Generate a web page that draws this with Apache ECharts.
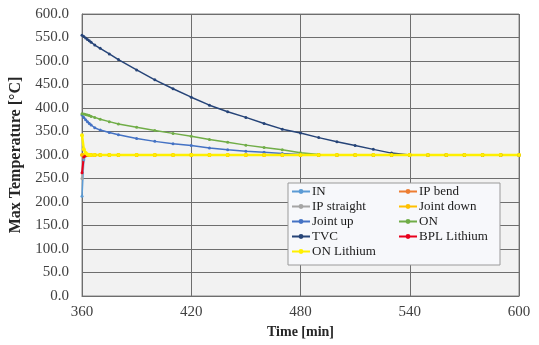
<!DOCTYPE html>
<html>
<head>
<meta charset="utf-8">
<script src="https://cdn.jsdelivr.net/npm/echarts@6/dist/echarts.min.js"></script>
<style>
html,body{margin:0;padding:0;background:#fff;}
#chart{width:539px;height:345px;}
</style>
</head>
<body>
<div id="chart"></div>
<script>
// time points (min)
const times = [360,361,362,363,364,365,367,370,375,380,390,400,410,420,430,440,450,460,470,480,490,500,510,520,530,540,550,560,570,580,590,600];

const seriesNames = ['IN','IP bend','IP straight','Joint down','Joint up','ON','TVC','BPL Lithium','ON Lithium'];

const inVals         = [212,290,298,300,300,300,300,300,300,300,300,300,300,300,300,300,300,300,300,300,300,300,300,300,300,300,300,300,300,300,300,300];
const ipBendVals     = [300,300,300,300,300,300,300,300,300,300,300,300,300,300,300,300,300,300,300,300,300,300,300,300,300,300,300,300,300,300,300,300];
const ipStraightVals = [250,294,299,300,300,300,300,300,300,300,300,300,300,300,300,300,300,300,300,300,300,300,300,300,300,300,300,300,300,300,300,300];
const jointDownVals  = [300,300,300,300,300,300,300,300,300,300,300,300,300,300,300,300,300,300,300,300,300,300,300,300,300,300,300,300,300,300,300,300];
const jointUpVals    = [385,380,375,371,367,364,358,353,348,343,335,329,324,320,315,311,308,306,303,301,300,300,300,300,300,300,300,300,300,300,300,300];
const onVals         = [388,387,386,385,384,382,380,376,371,366,359,352,346,340,333,327,321,316,311,305,301,300,300,300,300,300,300,300,300,300,300,300];
const tvcVals        = [555,552,549,546,543,540,534,527,515,503,481,460,441,423,406,392,380,367,355,347,337,328,320,312,304,300,300,300,300,300,300,300];
const bplLiVals      = [262,296,299,300,300,300,300,300,300,300,300,300,300,300,300,300,300,300,300,300,300,300,300,300,300,300,300,300,300,300,300,300];
const onLiVals       = [342,312,304,301,300,300,300,300,300,300,300,300,300,300,300,300,300,300,300,300,300,300,300,300,300,300,300,300,300,300,300,300];

const xTicks = [360,420,480,540,600];

const allVals = [inVals, ipBendVals, ipStraightVals, jointDownVals, jointUpVals, onVals, tvcVals, bplLiVals, onLiVals];
const colors = ['#5B9BD5','#ED7D31','#A5A5A5','#FFC000','#4472C4','#70AD47','#264478','#E8001C','#FFF000'];
const widths = [1.5,1.5,1.5,1.5,1.5,1.5,1.5,2,2.5];
const symSizes = [3,3,3,4,3,3,3,3,4];

const FONT = '"Liberation Serif", "Times New Roman", serif';

const series = seriesNames.map((name, i) => ({
  name: name,
  type: 'line',
  data: times.map((t, j) => [t, allVals[i][j]]),
  symbol: 'circle',
  symbolSize: symSizes[i],
  showSymbol: true,
  itemStyle: {color: colors[i]},
  lineStyle: {color: colors[i], width: widths[i]},
  emphasis: {disabled: true},
  animation: false
}));

const chart = echarts.init(document.getElementById('chart'), null, {renderer: 'canvas'});
chart.setOption({
  animation: false,
  backgroundColor: '#ffffff',
  grid: {left: 82, right: 20, top: 14, bottom: 49, show: true, backgroundColor: '#f2f2f2', borderColor: '#8a8a8a', borderWidth: 1},
  xAxis: {
    type: 'value', min: 360, max: 600, interval: 60,
    name: 'Time [min]', nameLocation: 'middle', nameGap: 27,
    nameTextStyle: {fontFamily: FONT, fontWeight: 'bold', fontSize: 14, color: '#262626'},
    axisLine: {show: true, lineStyle: {color: '#6e6e6e'}},
    axisTick: {show: false},
    axisLabel: {fontFamily: FONT, fontSize: 15, color: '#404040', margin: 9,
      formatter: v => xTicks.includes(v) ? String(v) : ''},
    splitLine: {show: true, lineStyle: {color: '#6e6e6e', width: 1}}
  },
  yAxis: {
    type: 'value', min: 0, max: 600, interval: 50,
    name: 'Max Temperature [°C]', nameLocation: 'middle', nameGap: 55,
    nameTextStyle: {fontFamily: FONT, fontWeight: 'bold', fontSize: 16, color: '#262626'},
    axisLine: {show: true, lineStyle: {color: '#6e6e6e'}},
    axisTick: {show: false},
    axisLabel: {fontFamily: FONT, fontSize: 15, color: '#404040', margin: 13, formatter: v => v.toFixed(1)},
    splitLine: {show: true, lineStyle: {color: '#6e6e6e', width: 1}}
  },
  graphic: [{
    type: 'rect', z: 50, silent: true,
    shape: {x: 288, y: 183, width: 212, height: 82},
    style: {fill: '#f7f8fb', stroke: '#9a9a9a', lineWidth: 1}
  }],
  legend: [
    {
      data: ['IN','IP straight','Joint up','TVC','ON Lithium'],
      orient: 'vertical', left: 291, top: 184, itemGap: 0, itemWidth: 18, itemHeight: 6, z: 60,
      textStyle: {fontFamily: FONT, fontSize: 13, color: '#1a1a1a', lineHeight: 15, padding: [0,0,0,-3]},
      padding: 0, selectedMode: false
    },
    {
      data: ['IP bend','Joint down','ON','BPL Lithium'],
      orient: 'vertical', left: 398, top: 184, itemGap: 0, itemWidth: 18, itemHeight: 6, z: 60,
      textStyle: {fontFamily: FONT, fontSize: 13, color: '#1a1a1a', lineHeight: 15, padding: [0,0,0,-3]},
      padding: 0, selectedMode: false
    }
  ],
  series: series
});
</script>
</body>
</html>
